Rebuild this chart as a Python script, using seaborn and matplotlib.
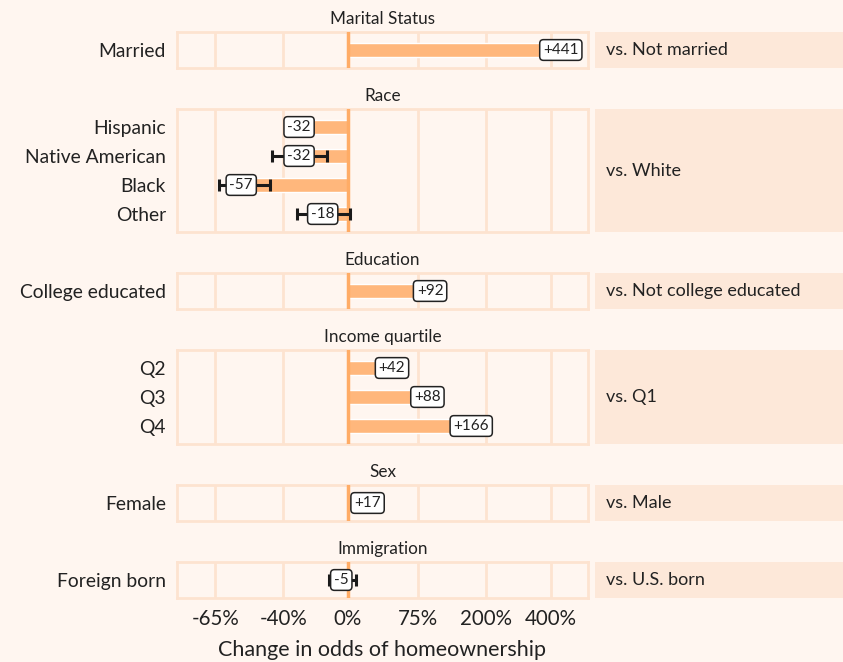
import numpy as np
import pandas as pd
import matplotlib
matplotlib.use("Agg")
import matplotlib.pyplot as plt
from matplotlib.patches import Rectangle
import seaborn as sns

# data: percent change in odds of homeownership
groups = ["Marital Status", "Race", "Education", "Income quartile", "Sex", "Immigration"]
group_rows = [
    ["Married"],
    ["Hispanic", "Native American", "Black", "Other"],
    ["College educated"],
    ["Q2", "Q3", "Q4"],
    ["Female"],
    ["Foreign born"],
]
group_pct = [
    [441],
    [-32, -32, -57, -18],
    [92],
    [42, 88, 166],
    [17],
    [-5],
]
# confidence interval ends (percent), None where hidden behind the label
group_ci_lo = [
    [None],
    [None, -45, -64, -33],
    [None],
    [None, None, None],
    [None],
    [-14],
]
group_ci_hi = [
    [None],
    [None, -15, -46, 2],
    [None],
    [None, None, None],
    [None],
    [7],
]
references = ["vs. Not married", "vs. White", "vs. Not college educated",
              "vs. Q1", "vs. Male", "vs. U.S. born"]
tick_pct = [-65, -40, 0, 75, 200, 400]
tick_labels = ["-65%", "-40%", "0%", "75%", "200%", "400%"]
xlim_odds = (0.2585, 6.71)


def to_log(pct):
    return np.log(1 + np.asarray(pct, dtype=float) / 100)


bg = "#FFF6F0"
line_col = "#FDE3D0"
box_col = "#FDE8D9"
bar_col = "#FFB77C"
zero_col = "#FFAC66"
text_col = "#222222"

sns.set_theme(style="white")
plt.rcParams["font.family"] = ["Lato", "DejaVu Sans"]

W, H = 843, 662
fig = plt.figure(figsize=(W / 100, H / 100), dpi=100)
fig.patch.set_facecolor(bg)

row_h, pad, gap = 29, 3.5, 41
left_px, right_px = 177, 588
top = 32
tick_x = to_log(tick_pct)

for gi, g in enumerate(groups):
    rows = group_rows[gi]
    n = len(rows)
    h = row_h * n + 2 * pad
    ax = fig.add_axes([left_px / W, 1 - (top + h) / H, (right_px - left_px) / W, h / H])
    ax.set_facecolor(bg)

    df = pd.DataFrame({"label": rows, "logodds": to_log(group_pct[gi])})
    for t in tick_x:
        if t != 0:
            ax.axvline(t, color=line_col, lw=2, zorder=0)
    sns.barplot(data=df, x="logodds", y="label", orient="h", color=bar_col,
                saturation=1, width=0.5, ax=ax, zorder=2)
    ax.axvline(0, color=zero_col, lw=2.5, zorder=3)

    for i, (p, lo, hi) in enumerate(zip(group_pct[gi], group_ci_lo[gi], group_ci_hi[gi])):
        est = to_log(p)
        if lo is not None:
            ax.errorbar(est, i, xerr=[[est - to_log(lo)], [to_log(hi) - est]], fmt="none",
                        ecolor="#1a1a1a", elinewidth=2.2, capsize=4.5, capthick=2.2, zorder=4)
        ax.text(est, i, f"{p:+d}", ha="center", va="center", fontsize=11, color=text_col,
                zorder=6, bbox=dict(boxstyle="round,pad=0.22,rounding_size=0.25",
                                    fc="white", ec=text_col, lw=1.1))

    ax.set_xlim(np.log(xlim_odds[0]), np.log(xlim_odds[1]))
    ax.set_ylim(n - 0.5 + pad / row_h, -0.5 - pad / row_h)
    ax.set_xlabel("")
    ax.set_ylabel("")
    ax.tick_params(axis="y", length=0, pad=8, labelsize=13.9, labelcolor=text_col)
    for s in ax.spines.values():
        s.set_color(line_col)
        s.set_linewidth(2)
    ax.set_title(g, fontsize=12.3, color=text_col, pad=6)

    if gi == len(groups) - 1:
        ax.set_xticks(tick_x)
        ax.set_xticklabels(tick_labels)
        ax.tick_params(axis="x", length=0, pad=8, labelsize=14.8, labelcolor=text_col)
        ax.set_xlabel("Change in odds of homeownership", fontsize=15.5, color=text_col, labelpad=8)
    else:
        ax.set_xticks([])

    # reference group box on the right
    fig.add_artist(Rectangle((595 / W, 1 - (top + h) / H), (W - 595) / W, h / H,
                             transform=fig.transFigure, facecolor=box_col, edgecolor="none"))
    fig.text(606 / W, 1 - (top + h / 2) / H, references[gi], ha="left", va="center",
             fontsize=13, color=text_col)

    top += h + gap

fig.savefig("out.png", dpi=100, facecolor=bg)
